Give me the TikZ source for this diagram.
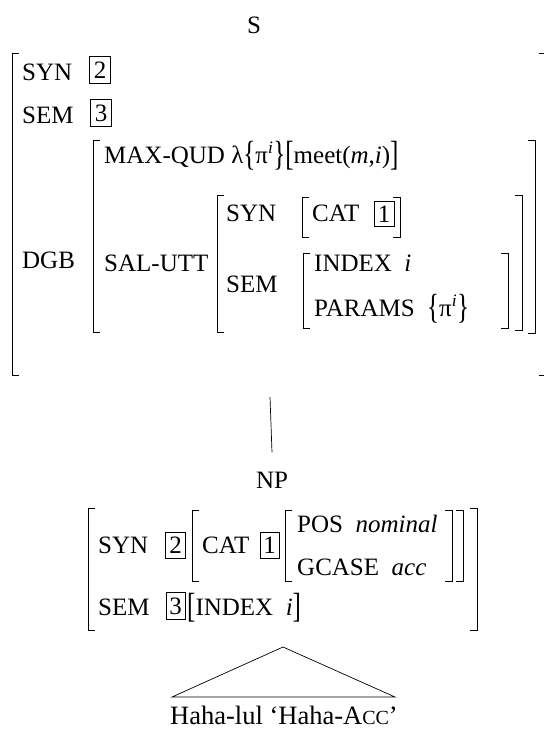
\documentclass[tikz,border=0pt]{standalone}
\usepackage{fontspec}
\setmainfont{Liberation Serif}
\newcommand\avmfont{\fontsize{25}{30}\selectfont}
% enlarged text delimiter
\newcommand\bigdel[1]{\raisebox{-0.08em}{\scalebox{1}[1.4]{#1}}}
\newcommand\pisup{π\textsuperscript{\textit{i}}}
% drawn AVM brackets: x, top, bottom
\newcommand\avmopen[3]{\draw[brk] ({#1+7},#2) -- (#1,#2) -- (#1,#3) -- ({#1+7},#3);}
\newcommand\avmclose[3]{\draw[brk] ({#1-7},#2) -- (#1,#2) -- (#1,#3) -- ({#1-7},#3);}
\begin{document}
\begin{tikzpicture}[x=1pt,y=-1pt,
  every node/.style={font=\avmfont},
  lbl/.style={anchor=base west,inner sep=0pt},
  tagbox/.style={draw,line width=0.7pt,inner sep=0pt,minimum width=21pt,minimum height=27pt},
  brk/.style={line width=0.8pt},
  edge/.style={line width=0.7pt}]
\useasboundingbox (0,0) rectangle (544,729);

% ---- mother node S ----
\node[anchor=base,inner sep=0pt] (s) at (254,33) {S};
\avmopen{12}{53}{375}
\avmclose{546}{53}{375}
\node[lbl] (sSyn) at (22,80) {SYN};
\node[tagbox] (sSynT) at (100,70) {2};
\node[lbl] (sSem) at (22,123) {SEM};
\node[tagbox] (sSemT) at (101,113) {3};
\node[lbl] (dgb) at (22,268) {DGB};

\avmopen{93}{140}{332}
\avmclose{535}{140}{333}
\node[lbl] (maxqud) at (104,163) {MAX-QUD λ\bigdel{\{}\pisup\bigdel{\}}\bigdel{[}meet(\textit{m},\textit{i})\bigdel{]}};
\node[lbl] (salutt) at (104,271) {SAL-UTT};

\avmopen{217}{195}{332}
\avmclose{522}{195}{330}
\node[lbl] (uSyn) at (226,221) {SYN};
\avmopen{302}{197}{237}
\avmclose{400}{197}{237}
\node[lbl] (uCat) at (312,221) {CAT};
\node[tagbox,minimum width=20pt,minimum height=25pt] (uCatT) at (384,214) {1};
\node[lbl] (uSem) at (226,292) {SEM};
\avmopen{303}{253}{328}
\avmclose{508}{253}{328}
\node[lbl] (uIndex) at (314,271) {INDEX\ \ \textit{i}};
\node[lbl] (uParams) at (314,316) {PARAMS\ \ \bigdel{\{}\pisup\bigdel{\}}};

% ---- branch ----
\coordinate (sfoot) at (270,397);
\node[anchor=base,inner xsep=0pt,inner ysep=19pt] (np) at (272,488) {NP};
\draw[edge] (sfoot) -- (np.north);

% ---- daughter node NP ----
\avmopen{88}{508}{630}
\avmclose{477}{508}{630}
\node[lbl] (nSyn) at (98,553) {SYN};
\node[tagbox,minimum width=20pt,minimum height=26pt] (nSynT) at (175.5,545) {2};
\avmopen{192}{510}{581}
\avmclose{463}{510}{581}
\node[lbl] (nCat) at (202,553) {CAT};
\node[tagbox,minimum width=19pt,minimum height=26pt] (nCatT) at (269.5,545) {1};
\avmopen{285}{510}{581}
\avmclose{452}{510}{581}
\node[lbl] (nPos) at (297,532) {POS\ \ \textit{nominal}};
\node[lbl] (nGcase) at (297,575) {GCASE\ \ \textit{acc}};
\node[lbl] (nSem) at (98,615) {SEM};
\node[tagbox,minimum width=19pt,minimum height=27pt] (nSemT) at (175.5,606) {3};
\node[lbl] (nIndex) at (187,615) {\bigdel{[}INDEX\ \ \textit{i}\bigdel{]}};

% ---- triangle and leaf ----
\coordinate (npfoot) at (283,647);
\coordinate (triL) at (172,697);
\coordinate (triR) at (395,697);
\draw[edge] (triL) -- (npfoot) -- (triR) -- cycle;
\node[anchor=base,inner sep=0pt,font=\fontsize{26.5}{30}\selectfont] (leaf) at (284,724)
  {Haha-lul ‘Haha-A{\fontsize{20}{22}\selectfont CC}’};
\end{tikzpicture}
\end{document}
